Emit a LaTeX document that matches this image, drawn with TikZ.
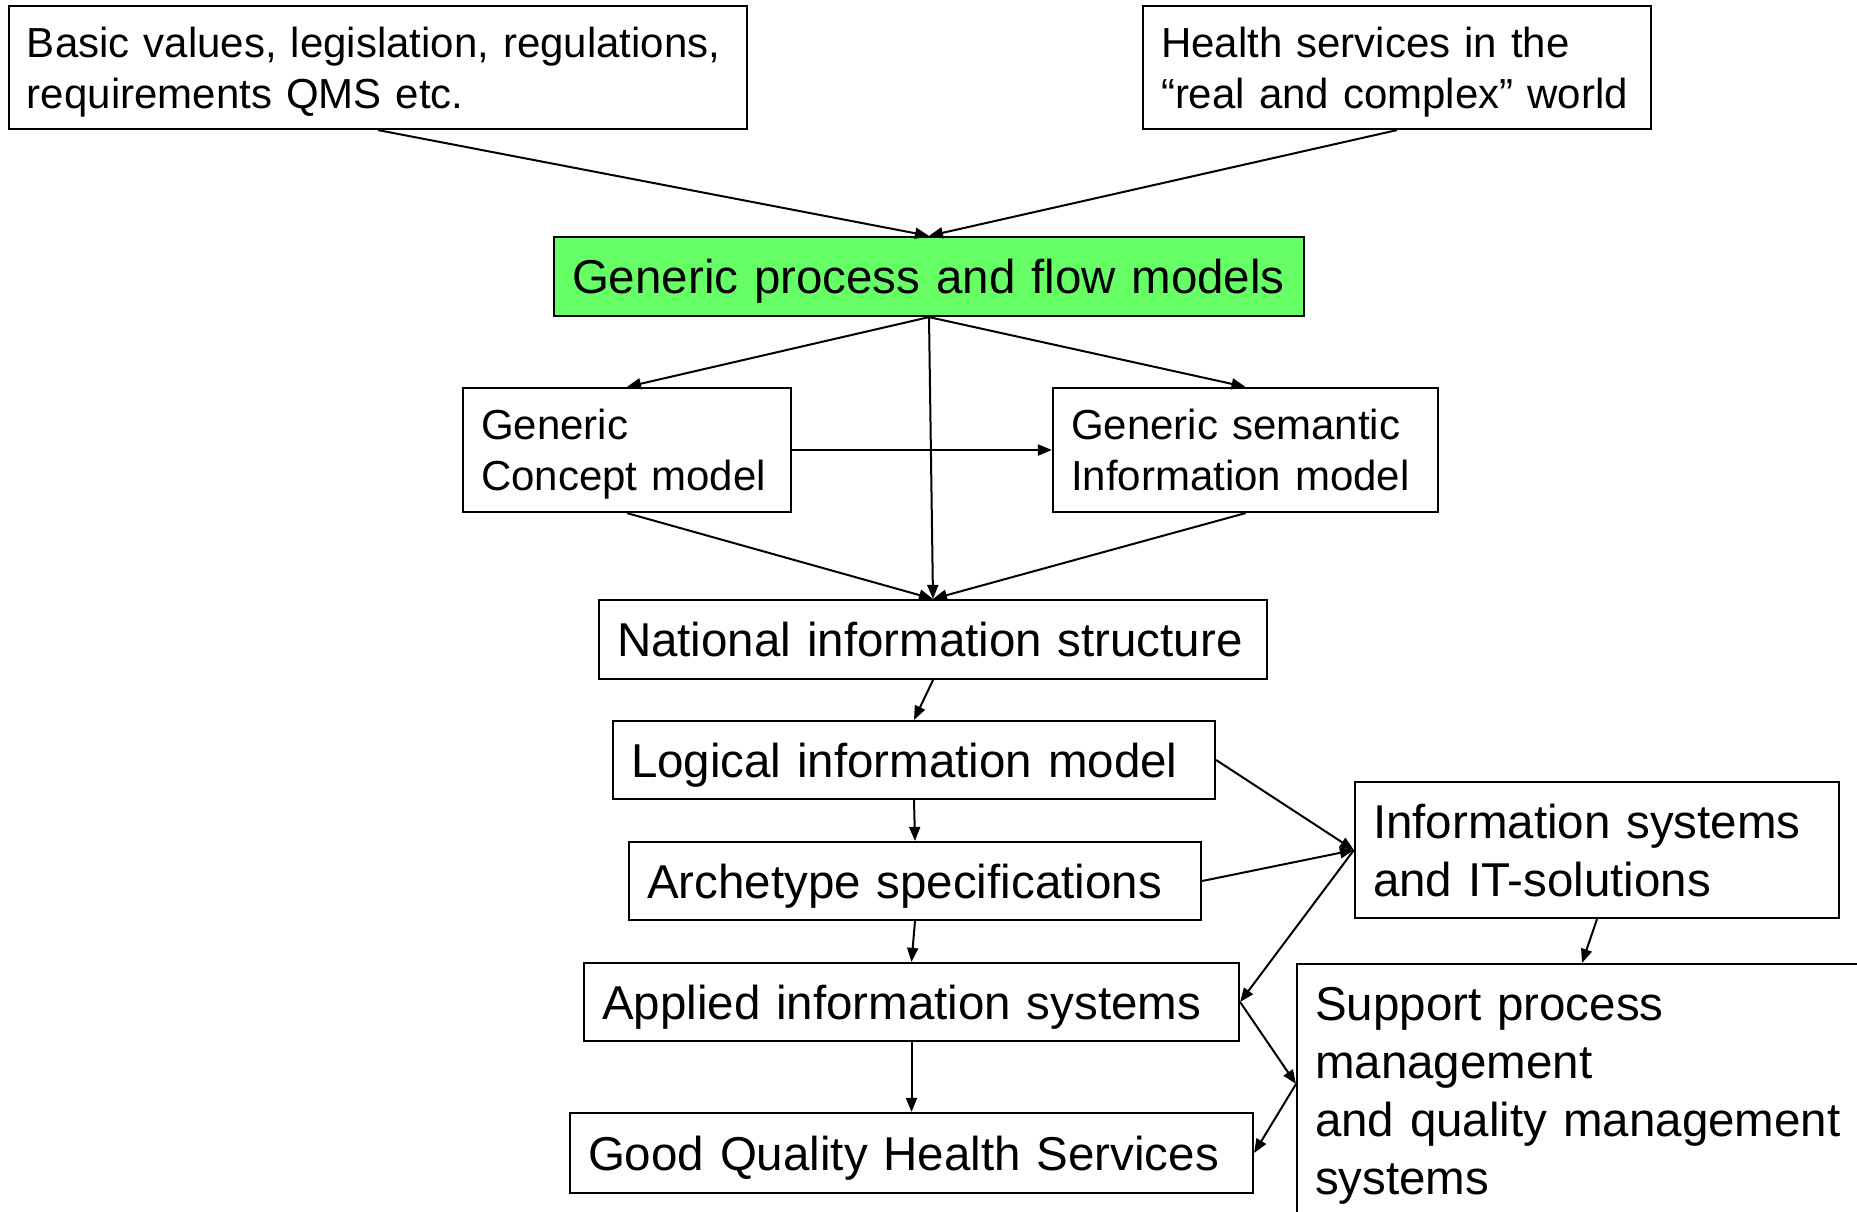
\documentclass[tikz,border=0pt]{standalone}
\usepackage{fontspec}
\setmainfont{Liberation Sans}
\usetikzlibrary{arrows.meta,calc}
\definecolor{boxgreen}{RGB}{102,255,102}
\newcommand{\bigtxt}{\fontsize{47.5}{58}\selectfont}
\newcommand{\smalltxt}{\fontsize{42}{51}\selectfont}
\tikzset{
  box/.style={draw, line width=2.2pt, inner xsep=18pt, inner ysep=0pt, align=left, anchor=center},
  oneline/.style={box, font=\bigtxt, text depth=0pt},
  twosmall/.style={box, font=\smalltxt, text height=30.7pt, text depth=51pt},
  twobig/.style={box, font=\bigtxt, text height=34.7pt, text depth=58pt},
  conn/.style={line width=2pt, -{Triangle[length=14pt,width=11pt]}},
}
\begin{document}
\begin{tikzpicture}[x=1pt,y=-1pt]
\useasboundingbox (0,0) rectangle (1857,1212);
\clip (0,0) rectangle (1857,1212);
\fill[white] (0,0) rectangle (1857,1212);
% nodes
\node[twosmall, text width=702pt, minimum height=123pt] (B1) at (378,67.5)
  {Basic values, legislation, regulations,\\requirements QMS etc.};
\node[twosmall, text width=472pt, minimum height=123pt] (B2) at (1397,67.5)
  {Health services in the\\“real and complex” world};
\node[oneline, fill=boxgreen, text width=714pt, minimum height=79pt] (G) at (929,276.5)
  {Generic process and flow models};
\node[twosmall, text width=292pt, minimum height=124pt] (C) at (627,450)
  {Generic\\Concept model};
\node[twosmall, text width=349pt, minimum height=124pt] (S) at (1245.5,450)
  {Generic semantic\\Information model};
\node[oneline, text width=632pt, minimum height=79pt] (N) at (933,639.5)
  {National information structure};
\node[oneline, text width=566pt, minimum height=78pt] (L) at (914,760)
  {Logical information model};
\node[oneline, text width=536pt, minimum height=78pt] (A) at (915,881)
  {Archetype specifications};
\node[oneline, text width=619pt, minimum height=78pt] (Ap) at (911.5,1002)
  {Applied information systems};
\node[oneline, text width=647pt, minimum height=80pt] (Q) at (911.5,1153)
  {Good Quality Health Services};
\node[twobig, text width=448pt, minimum height=136pt] (I) at (1597,850)
  {Information systems\\and IT-solutions};
\node[box, anchor=north west, font=\bigtxt, text width=560pt, inner ysep=23pt, text depth=320pt] (Sp) at (1296,963)
  {Support process\\management\\and quality management\\systems};
\coordinate (spw) at ($(Sp.north west)+(0,121)$);
\coordinate (spn) at ($(Sp.north west)+(286,0)$);
% connectors
\draw[conn] (B1.south) -- (G.north);
\draw[conn] (B2.south) -- (G.north);
\draw[conn] (G.south) -- (C.north);
\draw[conn] (G.south) -- (S.north);
\draw[conn] (G.south) -- (N.north);
\draw[conn] (C.east) -- (S.west);
\draw[conn] (C.south) -- (N.north);
\draw[conn] (S.south) -- (N.north);
\draw[conn] (N.south) -- (L.north);
\draw[conn] (L.south) -- (A.north);
\draw[conn] (A.south) -- (Ap.north);
\draw[conn] (Ap.south) -- (Q.north);
\draw[conn] (L.east) -- (I.west);
\draw[conn] (A.east) -- (I.west);
\draw[conn] (I.west) -- (Ap.east);
\draw[conn] (Ap.east) -- (spw);
\draw[conn] (spw) -- (Q.east);
\draw[conn] (I.south) -- (spn);
\end{tikzpicture}
\end{document}
